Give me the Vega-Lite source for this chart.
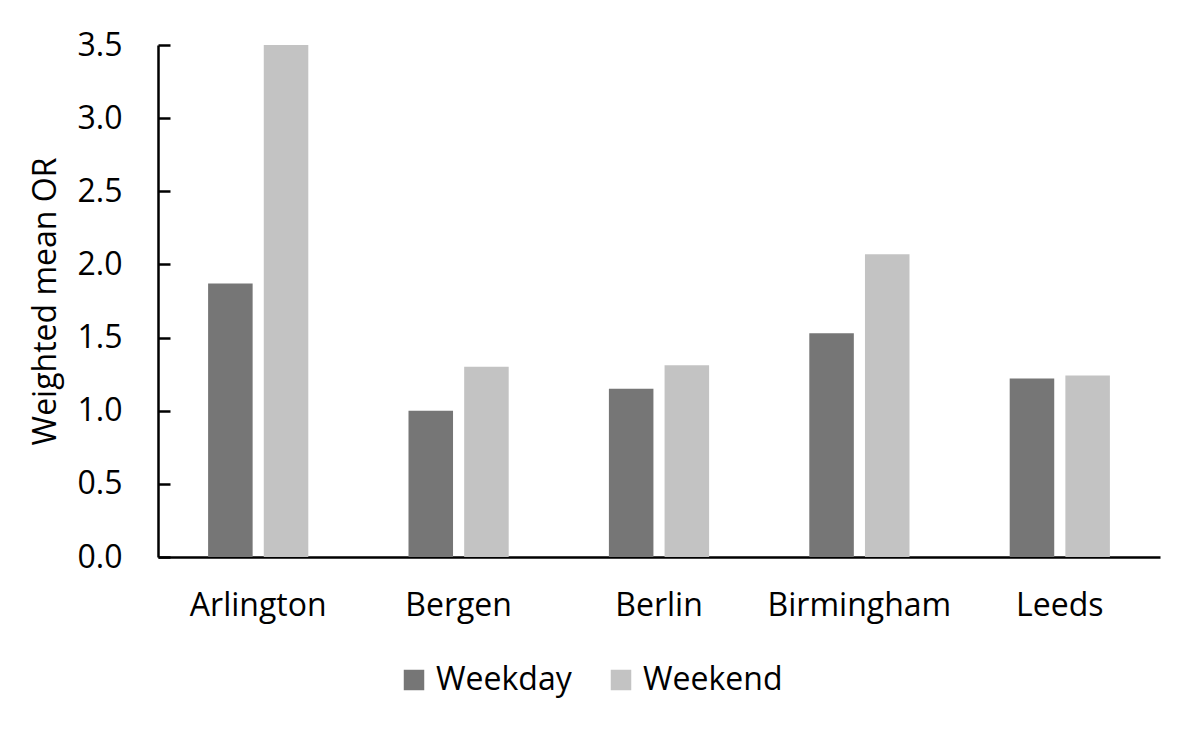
{
  "$schema": "https://vega.github.io/schema/vega-lite/v6.json",
  "width": 1002,
  "height": 512,
  "autosize": {"type": "none"},
  "padding": {"left": 158, "top": 45, "right": 40, "bottom": 180},
  "background": "white",
  "config": {
    "view": {"stroke": null},
    "font": "Open Sans",
    "axis": {"grid": false, "domainColor": "black", "domainWidth": 2.5, "tickColor": "black", "tickWidth": 2.5, "labelColor": "black", "titleColor": "black", "labelFontSize": 32, "titleFontSize": 32, "titleFontWeight": "normal", "labelFont": "Open Sans", "titleFont": "Open Sans", "labelLimit": 400}
  },
  "data": {
    "values": [
      {"city": "Arlington", "day": "Weekday", "value": 1.87},
      {"city": "Arlington", "day": "Weekend", "value": 3.5},
      {"city": "Bergen", "day": "Weekday", "value": 1.0},
      {"city": "Bergen", "day": "Weekend", "value": 1.3},
      {"city": "Berlin", "day": "Weekday", "value": 1.15},
      {"city": "Berlin", "day": "Weekend", "value": 1.31},
      {"city": "Birmingham", "day": "Weekday", "value": 1.53},
      {"city": "Birmingham", "day": "Weekend", "value": 2.07},
      {"city": "Leeds", "day": "Weekday", "value": 1.22},
      {"city": "Leeds", "day": "Weekend", "value": 1.24}
    ]
  },
  "mark": {"type": "bar"},
  "encoding": {
    "x": {
      "field": "city", "type": "nominal", "sort": null, "title": null,
      "scale": {"paddingInner": 0.5, "paddingOuter": 0.25},
      "axis": {"labelAngle": 0, "ticks": false, "labelPadding": 33, "labelLimit": 400}
    },
    "xOffset": {"field": "day", "type": "nominal", "scale": {"paddingInner": 0.2, "paddingOuter": 0}},
    "y": {
      "field": "value", "type": "quantitative", "title": "Weighted mean OR",
      "scale": {"domain": [0, 3.5], "nice": false},
      "axis": {"values": [0, 0.5, 1, 1.5, 2, 2.5, 3, 3.5], "format": ".1f", "tickSize": -12, "labelPadding": 48, "titlePadding": 15}
    },
    "color": {
      "field": "day", "type": "nominal",
      "scale": {"domain": ["Weekday", "Weekend"], "range": ["#767676", "#c3c3c3"]},
      "legend": {"title": null, "orient": "none", "direction": "horizontal", "legendX": 240, "legendY": 619, "symbolType": "square", "symbolSize": 420, "symbolStrokeWidth": 0, "labelFontSize": 32, "labelColor": "black", "labelFont": "Open Sans", "labelOffset": 6, "columnPadding": 33}
    }
  }
}
